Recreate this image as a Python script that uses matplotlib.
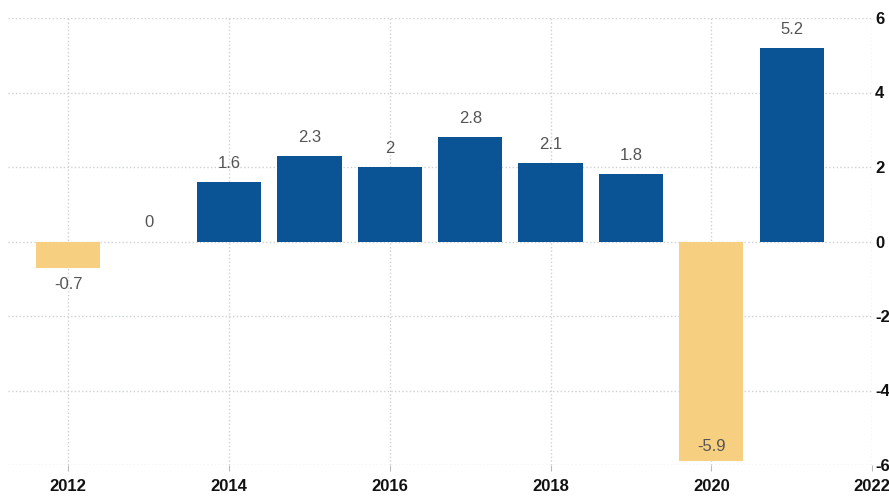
import matplotlib.pyplot as plt

# Annual values
years = [2012, 2013, 2014, 2015, 2016, 2017, 2018, 2019, 2020, 2021]
values = [-0.7, 0, 1.6, 2.3, 2, 2.8, 2.1, 1.8, -5.9, 5.2]
labels = ['-0.7', '0', '1.6', '2.3', '2', '2.8', '2.1', '1.8', '-5.9', '5.2']
xticks = [2012, 2014, 2016, 2018, 2020, 2022]
yticks = [-6, -4, -2, 0, 2, 4, 6]

blue = '#0a5394'
yellow = '#f7cf80'

plt.rcParams['font.family'] = ['Liberation Sans', 'DejaVu Sans']
plt.rcParams['axes.unicode_minus'] = False

fig = plt.figure(figsize=(8.89, 5.0), dpi=100)
ax = fig.add_axes([0.009, 0.07, 0.972, 0.894])

colors = [blue if v > 0 else yellow for v in values]
ax.bar(years, values, width=0.8, color=colors, zorder=3)

ax.set_xlim(2011.25, 2022)
ax.set_ylim(-6, 6)
ax.set_xticks(xticks)
ax.set_yticks(yticks)
ax.yaxis.tick_right()
ax.tick_params(axis='y', length=0, pad=2, labelsize=12, labelcolor='#111111')
ax.tick_params(axis='x', length=4, color='#bbbbbb', pad=6, labelsize=12, labelcolor='#111111')
for t in ax.get_xticklabels() + ax.get_yticklabels():
    t.set_fontweight('bold')

ax.grid(True, linestyle=':', color='#cdd1d5', linewidth=1, zorder=0)
for s in ax.spines.values():
    s.set_visible(False)

for x, v, lab in zip(years, values, labels):
    if v >= 0:
        ax.text(x, v + 0.3, lab, ha='center', va='bottom', fontsize=12, color='#555555')
    elif v - 0.8 > -6:
        ax.text(x, v - 0.25, lab, ha='center', va='top', fontsize=12, color='#555555')
    else:
        ax.text(x, v + 0.2, lab, ha='center', va='bottom', fontsize=12, color='#555555')

fig.savefig('out.png', dpi=100)
